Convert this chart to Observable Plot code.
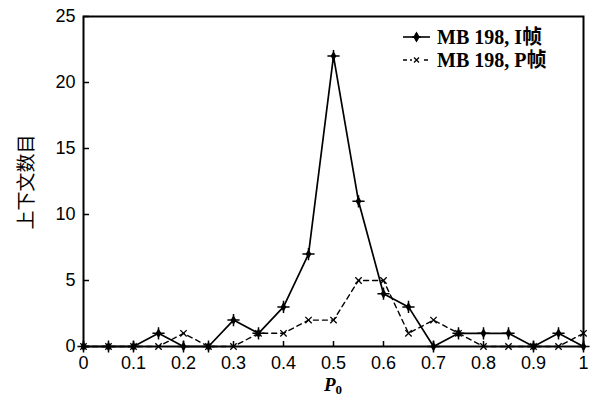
<!DOCTYPE html>
<html><head><meta charset="utf-8">
<script src="https://cdn.jsdelivr.net/npm/d3@7"></script>
<script src="https://cdn.jsdelivr.net/npm/@observablehq/plot@0.6"></script>
<style>body{margin:0;background:#fff}</style>
</head><body><div id="chart"></div>
<script>
const p0 = [0, 0.05, 0.1, 0.15, 0.2, 0.25, 0.3, 0.35, 0.4, 0.45, 0.5, 0.55, 0.6, 0.65, 0.7, 0.75, 0.8, 0.85, 0.9, 0.95, 1];
const iFrameCounts = [0, 0, 0, 1, 0, 0, 2, 1, 3, 7, 22, 11, 4, 3, 0, 1, 1, 1, 0, 1, 0];
const pFrameCounts = [0, 0, 0, 0, 1, 0, 0, 1, 1, 2, 2, 5, 5, 1, 2, 1, 0, 0, 0, 0, 1];
const xTicks = [0, 0.1, 0.2, 0.3, 0.4, 0.5, 0.6, 0.7, 0.8, 0.9, 1];
const yTicks = [0, 5, 10, 15, 20, 25];
const seriesNames = ["MB 198, I帧", "MB 198, P帧"];
const yLabel = "上下文数目";
const xLabelMain = "P";
const xLabelSub = "0";

const dataI = p0.map((x, i) => ({x, y: iFrameCounts[i]}));
const dataP = p0.map((x, i) => ({x, y: pFrameCounts[i]}));

const plot = Plot.plot({
  width: 598, height: 396,
  marginLeft: 83, marginRight: 15, marginTop: 16, marginBottom: 50,
  style: {fontFamily: "'Liberation Sans', Arial, sans-serif", fontSize: "18px", color: "#000", background: "#fff", overflow: "visible"},
  x: {domain: [0, 1]},
  y: {domain: [0, 25]},
  marks: [
    Plot.axisX(xTicks, {tickSize: 5, dy: -5, tickFormat: () => "", label: null, strokeWidth: 1.5}),
    Plot.axisX(xTicks, {tickSize: 0, tickPadding: 10, tickFormat: d => String(d), label: null, fontSize: 18}),
    Plot.axisY(yTicks, {tickSize: 6, dx: 6, tickFormat: () => "", label: null, strokeWidth: 1.5}),
    Plot.axisY(yTicks, {tickSize: 0, tickPadding: 8, tickFormat: d => String(d), label: null, fontSize: 18}),
    Plot.line(dataP, {x: "x", y: "y", stroke: "#000", strokeWidth: 1.4, strokeDasharray: "5,4"}),
    Plot.line(dataI, {x: "x", y: "y", stroke: "#000", strokeWidth: 1.7}),
    Plot.dot(dataP, {x: "x", y: "y", symbol: "times", r: 3, stroke: "#000", strokeWidth: 1.3}),
    Plot.dot(dataI, {x: "x", y: "y", symbol: "diamond", r: 3, fill: "#000"}),
    Plot.dot(dataI, {x: "x", y: "y", symbol: "plus", r: 4, stroke: "#000", strokeWidth: 1.5}),
    Plot.frame({stroke: "#000", strokeWidth: 2})
  ]
});

const svg = d3.select(plot);
// legend
const lg = svg.append("g").attr("text-anchor", "start");
const legendRows = [
  {name: seriesNames[0], dash: null, y: 37},
  {name: seriesNames[1], dash: "4,3", y: 60}
];
legendRows.forEach((r, i) => {
  lg.append("line").attr("x1", 403).attr("x2", 430).attr("y1", r.y).attr("y2", r.y)
    .attr("stroke", "#000").attr("stroke-width", 1.6).attr("stroke-dasharray", r.dash);
  if (i === 0) {
    lg.append("path").attr("d", d3.symbol(d3.symbolDiamond, 36)()).attr("transform", `translate(416.5,${r.y})`).attr("fill", "#000");
    lg.append("path").attr("d", "M-4.5,0H4.5M0,-4V4").attr("transform", `translate(416.5,${r.y})`).attr("stroke", "#000").attr("stroke-width", 1.6);
  } else {
    lg.append("rect").attr("x", 412).attr("y", r.y - 3).attr("width", 9).attr("height", 6).attr("fill", "#fff");
    lg.append("path").attr("d", "M-2.5,-2.5L2.5,2.5M-2.5,2.5L2.5,-2.5").attr("transform", `translate(416.5,${r.y})`).attr("stroke", "#000").attr("stroke-width", 1.3);
  }
  lg.append("text").attr("x", 437).attr("y", r.y).attr("dy", "0.35em").attr("text-anchor", "start")
    .attr("font-family", "'Liberation Serif', 'Times New Roman', 'Noto Sans CJK SC', serif")
    .attr("font-weight", "bold").attr("font-size", 20).attr("fill", "#000").text(r.name);
});
// x label
const xl = svg.append("text").attr("x", 333).attr("y", 391).attr("text-anchor", "middle")
  .attr("font-family", "'Liberation Serif', 'Times New Roman', serif").attr("font-weight", "bold")
  .attr("font-style", "italic").attr("font-size", 19).attr("fill", "#000");
xl.append("tspan").text(xLabelMain);
xl.append("tspan").attr("dy", 3).attr("font-size", 13).attr("font-style", "normal").text(xLabelSub);
// y label
svg.append("text").attr("transform", "translate(26,182) rotate(-90)").attr("text-anchor", "middle")
  .attr("dy", "0.35em").attr("font-family", "'Noto Sans CJK SC', sans-serif").attr("font-size", 19)
  .attr("fill", "#000").text(yLabel);

document.getElementById("chart").appendChild(plot);
</script></body></html>
